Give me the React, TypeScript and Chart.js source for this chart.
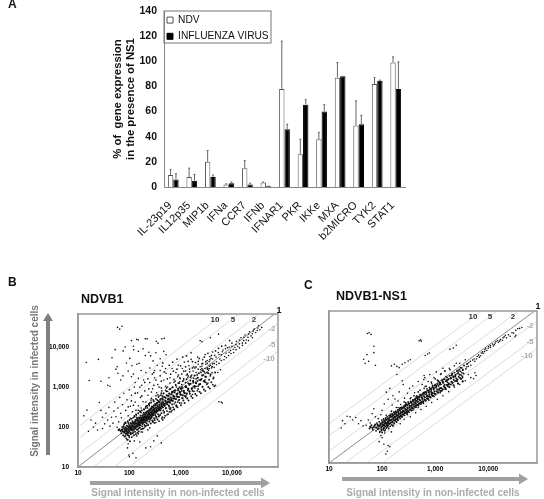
import React, { useEffect, useRef } from "react";
import { Chart, registerables } from "chart.js";
Chart.register(...registerables);

const genes = ["IL-23p19","IL12p35","MIP1b","IFNa","CCR7","IFNb","IFNAR1","PKR","IKKe","MXA","b2MICRO","TYK2","STAT1"];
const ndv = [9.5,8,20,2,15,3.5,78,26,38,87,49,82,99];
const flu = [6,5,8,3,2,0.5,46,65.5,60,88,50,84.5,78];
const ndvTop = [14,15,29,2.5,21,4,116,38,43.5,99,68.5,87,103.5];
const fluTop = [10.5,10,9.5,4,3,0.7,50,69.5,65.5,88,57,85,99.5];

const axisTicks = [10,100,1000,10000];
const folds = [10,5,2,1,0.5,0.2,0.1];

const bCore = [[62,84],[68,80],[72,86],[75,78],[78,92],[80,72],[82,84],[85,96],[86,68],[88,80],[90,90],[92,74],[94,104],[95,62],[96,84],[98,96],[100,78],[102,110],[104,88],[105,70],[108,100],[110,120],[112,92],[114,82],[116,108],[118,128],[120,98],[122,86],[125,116],[128,104],[130,136],[132,94],[135,122],[138,110],[140,150],[142,102],[145,128],[148,116],[150,140],[154,108],[156,160],[158,130],[160,118],[165,148],[168,128],[170,170],[174,136],[176,156],[180,120],[182,190],[185,146],[188,168],[190,132],[195,176],[198,152],[200,210],[205,164],[208,140],[210,186],[215,226],[218,170],[220,150],[225,200],[228,178],[232,248],[235,160],[240,214],[244,188],[248,270],[250,170],[255,230],[260,200],[265,290],[268,184],[272,246],[278,214],[282,310],[286,200],[290,262],[296,232],[300,340],[305,220],[310,284],[316,248],[322,372],[328,232],[334,300],[340,266],[346,400],[352,250],[360,322],[366,290],[372,440],[380,270],[388,350],[396,310],[404,480],[412,290],[420,376],[430,334],[440,520],[450,310],[460,410],[470,360],[480,560],[490,340],[505,450],[520,390],[535,620],[550,370],[565,490],[580,430],[600,680],[620,410],[640,540],[660,470],[680,750],[700,450],[725,590],[750,520],[780,820],[810,500],[840,660],[870,570],[900,900],[930,560],[970,730],[1010,640],[1050,980],[1100,620],[1150,800],[1200,700],[1260,1050],[1320,680],[1400,900],[1480,780],[1560,1200],[1650,900],[1750,1400],[1850,1050],[2000,1250],[2150,1700],[2300,1150],[2450,1500],[2650,1950],[2850,1400],[3050,1800],[3300,2300]];

const bExtra = [[64,88],[70,70],[73,100],[76,62],[79,115],[81,58],[83,78],[84,130],[87,90],[87,52],[89,108],[91,66],[93,140],[93,48],[96,72],[97,120],[99,60],[101,150],[101,94],[103,44],[106,126],[107,66],[109,86],[111,160],[112,56],[115,104],[117,70],[119,172],[121,128],[123,62],[126,90],[127,180],[129,76],[131,150],[134,66],[136,104],[137,200],[139,86],[143,164],[144,72],[147,118],[149,220],[151,92],[153,78],[155,174],[157,136],[161,96],[163,240],[166,110],[167,190],[171,88],[173,146],[175,260],[178,104],[181,170],[183,124],[187,210],[189,92],[192,280],[194,150],[197,112],[201,186],[203,130],[207,300],[209,106],[212,166],[216,240],[219,124],[223,340],[226,146],[229,206],[233,112],[237,176],[241,370],[245,136],[249,210],[253,152],[258,270],[262,122],[267,410],[270,170],[275,238],[280,146],[284,310],[289,134],[294,196],[299,450],[303,166],[308,270],[313,150],[319,350],[325,190],[331,500],[336,170],[343,240],[349,390],[355,154],[362,210],[369,560],[376,182],[383,300],[390,430],[398,200],[406,260],[414,620],[422,222],[431,330],[440,176],[449,480],[458,260],[468,700],[478,226],[488,380],[498,190],[509,540],[520,300],[532,780],[544,250],[556,420],[568,210],[581,600],[594,330],[608,880],[622,280],[636,460],[650,240],[665,660],[681,370],[697,980],[714,310],[731,520],[748,280],[766,730],[785,420],[805,1100],[825,350],[846,590],[868,310],[890,820],[913,470],[937,1250],[962,400],[988,660],[1015,350],[1043,900],[1072,530],[1102,1400],[1133,460],[1165,740],[1198,400],[1232,1000],[1268,600],[1305,1560],[1343,520],[1383,830],[1424,460],[1467,1130],[1511,680],[1557,1750],[1605,590],[1655,930],[1706,530],[1759,1270],[1814,780],[1871,1950],[1930,670],[1991,1040],[2054,610],[2120,1420],[2188,890],[2259,2200],[2332,760],[2408,1180],[2487,700],[2569,1600],[2654,1020],[2743,2500],[2835,870],[2930,1350],[3029,800],[3131,1820],[3237,1170],[3347,2800],[3461,1000],[3579,1530],[3700,920],[3830,2050],[3960,1320],[4100,3200],[4240,1150],[4390,1730],[4540,1050],[4700,2300]];

const bCloud = [[120,75],[340,180],[150,68],[420,700],[95,130],[640,300],[200,100],[780,1400],[260,160],[1100,520],[135,210],[510,820],[180,75],[880,420],[310,125],[1500,2400],[105,165],[700,1000],[230,85],[360,640],[1250,560],[160,250],[450,150],[2200,1050],[125,190],[600,240],[290,480],[970,1700],[85,125],[1700,800],[380,140],[530,950],[210,330],[2600,3800],[145,85],[820,330],[480,170],[330,230],[1900,3000],[115,140],[1350,2100],[250,400],[90,70],[680,520],[400,310],[3100,1300],[170,230],[750,270],[555,410],[1050,800],[275,180],[2300,1500],[195,270],[1480,1200],[635,900],[100,100],[355,470],[4100,2300],[130,95],[900,1250],[445,590],[1750,1000],[225,300],[3500,2200],[320,200],[1150,1600],[590,350],[78,105],[2000,1600],[265,205],[720,620],[155,120],[1420,900],[510,290],[2800,2000],[185,150],[960,780],[375,260],[1600,1900],[245,340],[830,1000],[610,480],[3300,3000],[108,85],[430,420],[1250,1300],[285,260],[1950,1300],[690,740],[140,175],[2500,2300],[470,350],[1050,1150],[215,175],[3800,3500],[350,350],[1300,980],[560,610],[165,195],[770,580],[2900,2400],[300,300],[1800,1650],[405,500],[125,125],[880,700],[240,235],[1550,1450],[520,430],[4500,3900],[340,390],[1100,950],[175,160],[650,660],[2100,2000],[275,330],[950,1000],[440,380],[3600,2900],[205,230],[1400,1250],[730,800],[150,145],[590,520],[2700,2600],[380,410],[1000,900],[130,700],[160,1000],[110,450],[200,1300],[240,900],[175,600],[300,1100],[330,1500],[270,750],[120,350],[420,1400],[380,1000],[95,320],[480,2400],[550,1600],[300,2300],[230,1600],[640,2100],[720,2500],[850,2800],[1000,3400],[1250,3200],[1400,4400],[1700,4300],[2000,3200],[2300,5200],[2900,5600],[3400,7000],[4000,6200],[4800,8000],[5500,9300],[6300,10500],[7500,11000],[9000,14500],[600,3500],[700,4200],[450,4000],[850,5000],[1100,5600],[1300,6000],[1600,7200],[900,2000],[1150,2500],[1400,1900],[1700,3000],[2200,4400],[2600,2900],[3100,4300],[3700,4800]];

const bWide = [[59,31000],[65,28000],[72,33000],[110,14500],[140,15500],[150,15000],[205,16000],[222,16000],[335,14000],[362,12500],[430,16000],[480,16500],[53,8600],[83,10000],[76,8000],[120,10500],[122,8500],[150,7800],[185,9000],[14.5,4100],[25,4900],[46,5400],[55,2800],[58,3200],[88,4000],[102,5200],[112,3400],[140,3700],[155,3900],[205,6100],[240,7400],[260,6000],[290,4500],[330,7200],[400,5100],[470,7800],[520,6400],[16.5,1450],[28,1400],[40,1700],[38,1100],[42,1050],[60,2200],[68,1500],[75,1900],[95,2500],[110,1800],[120,2100],[130,1300],[150,1650],[170,2600],[190,1500],[210,2300],[250,3000],[280,2100],[310,2600],[350,3500],[400,2600],[440,3300],[510,2900],[13,190],[15,265],[16,78],[18,150],[20,100],[22,125],[24,84],[26,410],[28,260],[30,175],[30,92],[33,120],[35,220],[38,150],[40,310],[42,105],[45,175],[48,125],[50,250],[52,420],[55,180],[58,98],[60,300],[62,135],[65,550],[68,220],[70,170],[74,360],[78,700],[80,125],[85,260],[90,480],[95,190],[100,850],[105,330],[110,620],[115,240],[125,1000],[130,420],[135,260],[145,720],[150,340],[165,550],[175,1100],[185,430],[200,800],[215,330],[230,620],[250,1300],[265,470],[285,900],[310,1700],[330,600],[360,1150],[400,1900],[430,800],[470,1500],[520,2200],[560,1000],[620,1700],[680,2900],[740,1300],[810,2300],[900,3500],[980,1600],[1080,2900],[1180,4200],[1300,2000],[1450,3400],[1600,4900],[1750,2500],[1950,4100],[2150,5600],[2400,3200],[2700,4800],[3000,6500],[3300,3900],[3700,5800],[4200,7500],[2400,14500],[2600,13500],[3800,17000],[5500,21000],[85,60],[90,48],[95,38],[100,55],[92,30],[98,20],[100,18],[118,22],[135,17],[125,45],[140,60],[110,70],[160,42],[170,75],[210,30],[260,32],[300,45],[420,40],[350,60],[5600,430],[6200,420],[6500,400],[180,90],[220,110],[250,95],[290,140],[330,130],[380,190],[430,160],[480,240],[540,200],[600,300],[680,260],[750,380],[850,330],[950,480],[1050,400],[1200,600],[1350,520],[1500,750],[1700,650],[1900,950],[2100,800],[2400,1200],[2700,1000],[3000,1500],[3400,1250],[3800,1900],[4300,1600],[4800,1100],[5300,2300],[6000,2700],[150,260],[170,300],[190,230],[210,420],[240,380],[270,520],[300,430],[340,720],[380,600],[420,950],[460,680],[510,1050],[560,780],[620,1250],[680,960],[740,1550],[800,1150],[880,1800],[960,1350],[1050,2100],[1150,1500],[1250,2500],[1380,1700],[1500,2800],[1650,2000],[1800,3200],[2000,2300],[2200,3700],[2450,2700],[2700,3900],[3000,2900],[3300,4600],[3600,3300],[3900,5200],[4200,3800],[4600,6200],[5000,4300],[5400,7300],[5800,5000],[6200,6400],[6700,8400],[7200,5800],[7700,7000],[8200,9600],[8800,7400],[9400,8200],[10000,12500],[10600,8800],[11400,9900],[12200,14000],[13000,10500],[14000,12000],[15000,17000],[16000,12500],[17000,14500],[18000,20000],[19000,15000],[20500,17500],[22000,24000],[23500,19000],[25000,21500],[27000,28000],[29000,23000],[31000,26000],[33000,34000],[35000,27000],[38000,31000],[3000,2200],[3500,2600],[4000,3000],[4500,3100],[5000,3600],[5600,3900],[6200,4600],[7000,4800],[7800,5400],[8600,6100],[9600,6900],[10800,7300],[12000,8600],[14000,9500],[16000,11000],[18500,12500],[21000,14500],[25000,17000],[2200,2800],[2600,3300],[3100,3700],[3600,4300],[4200,5000],[4900,5600],[5600,6500],[6500,7600],[7500,9000],[8800,10000],[10000,10500],[12000,11500],[14000,15000],[17000,17500],[21000,21000],[26000,25000],[32000,30000]];

const cCore = [[60,83],[66,78],[72,88],[78,80],[82,94],[86,76],[90,88],[94,100],[97,72],[100,86],[103,108],[105,92],[108,78],[110,118],[113,100],[116,86],[118,126],[120,106],[124,92],[128,134],[130,112],[134,100],[138,144],[140,120],[145,106],[148,152],[152,128],[156,114],[160,165],[164,136],[168,122],[172,176],[176,146],[182,130],[186,190],[190,158],[196,140],[200,205],[205,168],[210,150],[216,222],[222,180],[228,160],[234,240],[240,195],[246,172],[252,258],[258,210],[265,186],[272,280],[280,226],[288,200],[296,300],[304,245],[312,214],[320,324],[330,264],[340,232],[350,350],[360,286],[370,250],[382,380],[392,310],[404,270],[416,410],[430,336],[444,292],[458,450],[472,364],[488,316],[504,490],[520,394],[538,342],[556,530],[575,430],[595,370],[615,580],[636,470],[658,400],[680,630],[705,510],[730,440],[756,690],[782,560],[810,480],[840,760],[870,610],[900,520],[935,830],[970,670],[1010,570],[1050,920],[1100,740],[1150,630],[1210,1020],[1270,810],[1330,700],[1400,1140],[1480,900],[1560,770],[1650,1280],[1750,1000],[1850,860],[1970,1430],[2100,1120],[2230,950],[2380,1600],[2520,1250],[2700,1060],[2880,1800],[3080,1400],[3300,1200]];

const cExtra = [[58,76],[63,92],[67,70],[70,82],[74,96],[77,66],[80,104],[83,72],[85,88],[88,112],[91,64],[93,96],[96,80],[99,124],[100,60],[102,98],[106,70],[107,132],[110,90],[112,66],[115,110],[117,140],[120,78],[122,100],[125,150],[127,84],[131,118],[133,76],[136,160],[139,100],[142,86],[144,172],[147,126],[151,94],[154,180],[157,108],[160,90],[163,140],[167,196],[170,104],[174,154],[178,120],[181,210],[185,112],[189,168],[193,132],[197,226],[201,124],[206,184],[211,146],[215,244],[220,136],[225,200],[230,158],[236,264],[241,150],[247,218],[253,172],[259,286],[265,164],[271,240],[278,190],[285,310],[292,180],[299,262],[306,208],[314,340],[322,198],[330,290],[338,228],[347,370],[356,218],[365,318],[374,250],[384,405],[394,240],[404,350],[414,276],[425,440],[436,264],[448,385],[460,304],[472,480],[484,290],[497,424],[510,336],[524,530],[538,318],[552,466],[567,370],[582,580],[598,350],[614,514],[630,408],[647,640],[664,386],[682,566],[700,450],[719,700],[738,424],[758,624],[778,496],[799,770],[820,466],[842,686],[865,548],[888,850],[912,514],[936,756],[961,604],[987,940],[1013,566],[1041,832],[1069,666],[1097,1030],[1127,624],[1157,916],[1188,734],[1220,1130],[1253,686],[1286,1010],[1321,810],[1356,1250],[1393,756],[1430,1110],[1469,890],[1508,1370],[1549,832],[1590,1220],[1633,980],[1677,1510],[1722,916],[1769,1350],[1816,1080],[1865,1660],[1915,1010],[1967,1480],[2020,1190],[2074,1830],[2130,1110],[2187,1630],[2246,1310],[2306,2010],[2368,1220],[2432,1790],[2497,1440],[2564,2200],[2633,1340],[2704,1970],[2777,1580],[2851,2420],[2928,1480],[3006,2170],[3087,1740],[3170,2660],[3255,1620],[3343,2380],[3433,1910]];

const cCloud = [[130,90],[200,260],[300,190],[120,165],[450,300],[650,900],[170,100],[900,600],[260,360],[1300,1900],[400,520],[150,210],[550,360],[1000,1400],[230,150],[750,500],[1700,1150],[340,440],[115,70],[1200,800],[480,650],[2200,1500],[195,125],[620,800],[2800,2200],[290,230],[1500,1000],[850,1150],[135,130],[3200,2000],[420,300],[1100,1300],[210,230],[700,780],[360,270],[1900,2400],[160,150],[520,560],[2400,1700],[270,300],[1350,1300],[800,650],[100,110],[600,620],[3800,2500],[310,360],[1000,1000],[185,170],[440,490],[1600,1600],[240,200],[950,800],[3000,2700],[380,400],[680,560],[1250,1100],[145,165],[2100,1900],[500,470],[220,260],[1800,1400],[330,290],[780,850],[4000,3400],[125,105],[570,480],[2600,2300],[260,260],[1450,1350],[1050,900],[430,380],[175,195],[3500,3100],[650,640],[900,950],[360,350],[2000,1700],[205,190],[1150,1200],[470,420],[280,320]];

const cWide = [[53,20000],[57,21000],[62,19000],[500,13000],[530,13800],[550,12800],[70,9500],[70,6500],[52,5800],[45,4400],[48,3500],[56,3900],[75,3100],[150,3000],[170,3300],[190,2900],[210,2700],[240,3300],[270,3600],[310,4000],[340,4300],[720,6000],[650,5500],[780,6400],[1900,8000],[2200,8600],[2500,10000],[190,1800],[240,1250],[620,1700],[640,1500],[1400,2600],[1500,2200],[2500,3500],[17,78],[20,100],[18,120],[25,150],[28,125],[32,145],[22,155],[36,100],[40,120],[44,88],[50,92],[55,125],[60,105],[65,180],[70,240],[75,150],[85,135],[95,170],[100,220],[110,320],[120,640],[130,420],[140,800],[155,300],[160,520],[175,430],[185,260],[200,380],[210,650],[225,310],[250,1000],[265,450],[280,350],[300,600],[330,800],[350,460],[380,920],[410,620],[450,520],[480,1200],[520,720],[570,1000],[610,1350],[680,900],[740,1200],[790,1800],[860,1050],[950,1500],[1050,2100],[1150,1250],[1260,1800],[1400,1150],[1550,2200],[1700,1300],[1850,2600],[2050,1700],[2300,3000],[2600,1900],[2900,3500],[3300,2300],[3700,4300],[4200,2900],[90,60],[95,50],[100,44],[105,72],[88,35],[98,66],[112,58],[108,30],[118,17],[125,20],[130,28],[140,26],[150,62],[160,88],[190,110],[220,100],[260,130],[300,170],[340,150],[380,220],[430,190],[480,260],[540,230],[600,330],[680,280],[760,400],[860,350],[960,500],[1100,420],[1250,620],[1400,520],[1600,760],[1800,660],[2000,1000],[2300,850],[2600,1200],[2900,1000],[3300,1500],[3700,1250],[4200,1800],[4700,1500],[5300,1400],[5600,2000],[5900,1700],[3500,3000],[3900,2800],[4300,3600],[4700,3100],[5100,4200],[5600,3900],[6200,5200],[6800,5000],[7400,6400],[8000,6200],[8700,7700],[9400,7400],[10200,9300],[11000,8800],[12000,10800],[13000,10400],[14000,12500],[15500,12000],[17000,14000],[18500,13500],[20000,16500],[22000,15500],[24000,18500],[26000,17000],[28000,21000],[30000,20500],[33000,24000],[36000,26500],[39000,27000],[43000,28500],[32000,16500],[33000,18000],[4000,3300],[4600,3900],[5400,4500],[6000,4500],[6600,5700],[7200,5400],[7800,6800],[8500,6900],[9000,8400],[10000,8400],[11000,9800],[12500,9600],[13500,11400],[15000,13300],[16500,12800],[19000,15500],[21000,18000]];

const letterFont = "bold 12px 'Liberation Sans', Arial, sans-serif";
const sans = "'Liberation Sans', Arial, sans-serif";

type Txt = [string, number, number, string, string, CanvasTextAlign?, number?];

function overlay(items: Txt[], arrows: number[][], box: boolean) {
  return {
    id: "overlay",
    afterDraw(chart: any) {
      const c = chart.ctx, a = chart.chartArea;
      c.save();
      if (box) {
        c.strokeStyle = "#999"; c.lineWidth = 1.5;
        c.strokeRect(a.left, a.top, a.right - a.left, a.bottom - a.top);
      }
      arrows.forEach(([x0, y0, x1, y1, w, h, grey]) => {
        const ang = Math.atan2(y1 - y0, x1 - x0);
        const col = `rgb(${grey},${grey},${grey})`;
        c.strokeStyle = col; c.fillStyle = col; c.lineWidth = w;
        c.beginPath(); c.moveTo(x0, y0);
        c.lineTo(x1 - Math.cos(ang) * h, y1 - Math.sin(ang) * h); c.stroke();
        c.save(); c.translate(x1, y1); c.rotate(ang);
        c.beginPath(); c.moveTo(0, 0); c.lineTo(-h, -h * 0.62); c.lineTo(-h, h * 0.62); c.closePath(); c.fill();
        c.restore();
      });
      items.forEach(([t, x, y, font, col, al, rot]) => {
        c.save();
        c.translate(x, y); c.rotate(rot || 0);
        c.font = font; c.fillStyle = col; c.textAlign = al || "left"; c.textBaseline = "middle";
        c.fillText(t, 0, 0);
        c.restore();
      });
      c.restore();
    },
  };
}

const fmt = (v: any) => Number(v).toLocaleString("en-US");

function scatterConfig(sets: number[][][], opts: any): any {
  const { left, top, right, bottom, w, h, items, arrows, xTitle, showY, padL, xColor } = opts;
  const lines = folds.map((k) => ({
    data: [{ x: 10, y: 10 * k }, { x: 80000, y: 80000 * k }],
    showLine: true, pointRadius: 0, order: 5,
    borderColor: k === 1 ? "#8a8a8a" : "#dcdcdc", borderWidth: 1,
  }));
  const dots = (pts: number[][], r: number, order: number) => ({
    data: pts.map(([x, y]) => ({ x, y })), pointRadius: r, pointBackgroundColor: "#111", pointBorderWidth: 0, order,
  });
  const radii = [1.15, 0.95, 0.85, 0.8];
  return {
    type: "scatter",
    data: { datasets: [...sets.map((s, i) => dots(s, radii[i], i)), ...lines] },
    options: {
      animation: false, responsive: false,
      layout: { padding: { left: padL, top, right: w - right, bottom: 0 } },
      plugins: { legend: { display: false }, tooltip: { enabled: false } },
      scales: {
        x: {
          type: "logarithmic", min: 10, max: opts.xMax,
          afterBuildTicks: (s: any) => { s.ticks = axisTicks.map((value) => ({ value })); },
          afterFit: (s: any) => { s.height = h - bottom; },
          grid: { display: false, drawTicks: false }, border: { color: "#999", width: 1.5 },
          ticks: { callback: fmt, autoSkip: false, maxRotation: 0, padding: 2, color: "#000", font: { family: sans, size: 6.5, weight: "bold" } },
          title: { display: true, text: xTitle, color: xColor, padding: 0, font: { family: sans, size: 10, weight: "bold" } },
        },
        y: {
          type: "logarithmic", min: 10, max: opts.yMax,
          afterBuildTicks: (s: any) => { s.ticks = axisTicks.map((value) => ({ value })); },
          afterFit: (s: any) => { s.width = left - padL; },
          grid: { display: false, drawTicks: true, tickLength: 2, tickColor: "#999" }, border: { color: "#999", width: 1.5 },
          ticks: { display: showY, callback: fmt, autoSkip: false, padding: 7, color: "#000", font: { family: sans, size: 6.5, weight: "bold" } },
        },
      },
    },
    plugins: [overlay(items, arrows, true)],
  };
}

const tickF = `bold 8px ${sans}`;
const titleF = `bold 12.5px ${sans}`;

function useChart(ref: any, make: () => any) {
  useEffect(() => {
    const chart = new Chart(ref.current, make());
    return () => chart.destroy();
  }, []);
}

export default function App() {
  const a = useRef<HTMLCanvasElement>(null);
  const b = useRef<HTMLCanvasElement>(null);
  const cc = useRef<HTMLCanvasElement>(null);

  useChart(a, () => ({
    type: "bar",
    data: {
      labels: genes,
      datasets: [
        { label: "NDV", data: ndv, backgroundColor: "#fff", borderColor: "#555", borderWidth: 1, categoryPercentage: 0.58, barPercentage: 1 },
        { label: "INFLUENZA VIRUS", data: flu, backgroundColor: "#000", borderColor: "#000", borderWidth: 1, categoryPercentage: 0.58, barPercentage: 1 },
      ],
    },
    options: {
      animation: false, responsive: false,
      layout: { padding: { left: 108, top: 11, right: 139, bottom: 0 } },
      plugins: {
        tooltip: { enabled: false },
        legend: {
          position: "chartArea", align: "start",
          labels: { boxWidth: 6, boxHeight: 6, padding: 6, color: "#111", font: { family: sans, size: 10.2 } },
        },
      },
      scales: {
        x: {
          afterFit: (s: any) => { s.height = 75; },
          grid: { display: false, drawTicks: true, tickLength: 3, tickColor: "#888" }, border: { color: "#888" },
          ticks: { autoSkip: false, minRotation: 45, maxRotation: 45, padding: 9, labelOffset: -3, color: "#111", font: { family: sans, size: 11 } },
        },
        y: {
          min: 0, max: 140,
          afterFit: (s: any) => { s.width = 56; },
          grid: { display: false, drawTicks: true, tickLength: 4, tickColor: "#888" }, border: { color: "#888" },
          ticks: { stepSize: 20, padding: 3, color: "#111", font: { family: sans, size: 10.5, weight: "bold" } },
          title: { display: true, text: ["% of  gene expression", "in the presence of NS1"], color: "#111", padding: { top: 3, bottom: 0 }, font: { family: sans, size: 11.3, weight: "bold", lineHeight: 1.15 } },
        },
      },
    },
    plugins: [
      {
        id: "legendShift",
        afterLayout(chart: any) {
          chart.legend.top += 9;
          chart.legend.left -= 3;
        },
      },
      {
        id: "errs",
        afterDatasetsDraw(chart: any) {
          const c = chart.ctx, y = chart.scales.y;
          [ndvTop, fluTop].forEach((tops, i) => {
            chart.getDatasetMeta(i).data.forEach((bar: any, j: number) => {
              const vals = i === 0 ? ndv : flu;
              c.save(); c.strokeStyle = "#666"; c.lineWidth = 1;
              c.beginPath();
              c.moveTo(bar.x, y.getPixelForValue(vals[j]));
              c.lineTo(bar.x, y.getPixelForValue(tops[j]));
              c.moveTo(bar.x - 1, y.getPixelForValue(tops[j]));
              c.lineTo(bar.x + 1, y.getPixelForValue(tops[j]));
              c.stroke(); c.restore();
            });
          });
          c.save(); c.strokeStyle = "#777"; c.lineWidth = 1;
          c.strokeRect(chart.chartArea.left, chart.chartArea.top, 107, 32);
          c.restore();
        },
      },
      overlay([["A", 8, 5, letterFont, "#111"]], [], false),
    ],
  }));

  useChart(b, () => scatterConfig([bCore, bExtra, bCloud, bWide], {
    left: 78, top: 44, right: 278, bottom: 197, w: 290, h: 229, padL: 10,
    xMax: 79000, yMax: 67000, showY: true,
    xTitle: "Signal intensity in non-infected cells", xColor: "#aaa",
    arrows: [[48, 185, 48, 43, 4, 8, 128], [90, 213, 270, 213, 4, 9, 160]],
    items: [
      ["Signal intensity in infected cells", 35, 111, `bold 10px ${sans}`, "#777", "center", -Math.PI / 2],
      ["B", 8, 13, letterFont, "#111"],
      ["NDVB1", 81, 30, titleF, "#111"],
      ["10", 215, 50, tickF, "#333", "center"], ["5", 233, 50, tickF, "#333", "center"], ["2", 254, 50, tickF, "#333", "center"],
      ["-2", 272, 59, tickF, "#aaa", "center"], ["-5", 272, 75, tickF, "#aaa", "center"], ["-10", 269, 89, tickF, "#aaa", "center"],
      ["1", 279, 41, `bold 9px ${sans}`, "#111", "center"],
    ],
  }));

  useChart(cc, () => scatterConfig([cCore, cExtra, cCloud, cWide], {
    left: 39, top: 41, right: 247, bottom: 193, w: 254, h: 229, padL: 0,
    xMax: 83000, yMax: 75000, showY: false,
    xTitle: "Signal intensity in non-infected cells", xColor: "#aaa",
    arrows: [[52, 209, 238, 209, 4, 9, 160]],
    items: [
      ["C", 14, 16, letterFont, "#111"],
      ["NDVB1-NS1", 46, 27, titleF, "#111"],
      ["10", 183, 47, tickF, "#333", "center"], ["5", 200, 47, tickF, "#333", "center"], ["2", 223, 47, tickF, "#333", "center"],
      ["-2", 240, 56, tickF, "#aaa", "center"], ["-5", 240, 72, tickF, "#aaa", "center"], ["-10", 237, 86, tickF, "#aaa", "center"],
      ["1", 248, 37, `bold 9px ${sans}`, "#111", "center"],
    ],
  }));

  const st = (left: number, top: number): React.CSSProperties => ({ position: "absolute", left, top, filter: "blur(0.35px)" });
  return (
    <div style={{ position: "absolute", left: 0, top: 0, width: 544, height: 499, background: "#fff", overflow: "hidden" }}>
      <canvas ref={a} width={544} height={262} style={st(0, 0)} />
      <canvas ref={b} width={290} height={229} style={st(0, 270)} />
      <canvas ref={cc} width={254} height={229} style={st(290, 270)} />
    </div>
  );
}
